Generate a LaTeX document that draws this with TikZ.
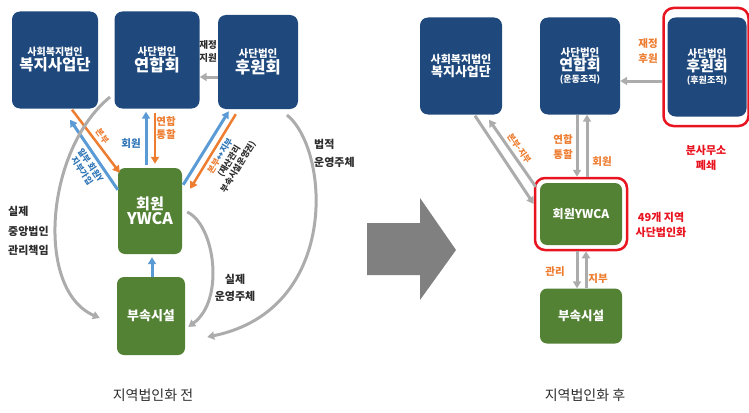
\documentclass[tikz,border=0pt]{standalone}
\usepackage{fontspec}
\setmainfont{Noto Sans CJK KR}
\usetikzlibrary{arrows.meta,calc}
\tikzstyle{canvas} = [x = 1pt, y = -1pt]
\definecolor{navyColor}{RGB}{31,73,125}
\definecolor{greenColor}{RGB}{84,130,53}
\definecolor{orangeColor}{RGB}{237,125,49}
\definecolor{blueColor}{RGB}{91,155,213}
\definecolor{blueText}{RGB}{46,117,182}
\definecolor{redColor}{RGB}{232,20,32}
\definecolor{lineGray}{RGB}{172,172,172}
\definecolor{arrowGray}{RGB}{128,128,128}
\definecolor{labelColor}{RGB}{45,45,45}
\newcommand{\txtSize}[2]{\fontsize{#1}{#2}\selectfont}
\tikzstyle{orgBox} = [fill=navyColor, rounded corners = 8pt, text=white, align=center, font=\bfseries, inner sep=0pt]
\tikzstyle{unitBox} = [fill=greenColor, rounded corners = 7pt, text=white, align=center, font=\bfseries, inner sep=0pt]
\tikzstyle{redFrame} = [draw=redColor, line width=2.5pt, rounded corners = 10pt, inner sep=0pt]
\tikzstyle{tipStyle} = [-{Triangle[length=7pt, width=8pt]}]
\tikzstyle{blueArrow} = [tipStyle, draw=blueColor, line width=3pt]
\tikzstyle{orangeArrow} = [tipStyle, draw=orangeColor, line width=2.5pt]
\tikzstyle{grayArrow} = [tipStyle, draw=lineGray, line width=3pt]
\tikzstyle{labelText} = [text=labelColor, align=center, font=\bfseries\txtSize{10.5}{14.5}, inner sep=1pt]
\tikzstyle{orangeLabel} = [labelText, text=orangeColor]
\tikzstyle{blueLabel} = [labelText, text=blueText]
\tikzstyle{redLabel} = [labelText, text=redColor, font=\bfseries\txtSize{11}{14.5}]
\tikzstyle{slopedLabel} = [labelText, sloped, inner sep=3pt, font=\bfseries\txtSize{8.5}{10.5}]
\tikzstyle{captionText} = [text=labelColor, font=\txtSize{14}{16}]

\begin{document}
\begin{tikzpicture}[canvas]
  \useasboundingbox (0,0) rectangle (749,412);

  \node[orgBox, minimum width=86pt, minimum height=97pt] (bwL) at (55,60) {{\txtSize{10}{14}사회복지법인}\\{\txtSize{15.5}{20}복지사업단}};
  \node[orgBox, minimum width=85pt, minimum height=97pt] (yhL) at (157,60) {{\txtSize{10.5}{14}사단법인}\\{\txtSize{16.5}{20}연합회}};
  \node[orgBox, minimum width=80pt, minimum height=94pt] (hwL) at (258,62) {{\txtSize{10.5}{14}사단법인}\\{\txtSize{16.5}{20}후원회}};
  \node[unitBox, minimum width=64pt, minimum height=86pt] (ywL) at (150,211) {{\txtSize{15}{20}회원}\\{\txtSize{16}{20}YWCA}};
  \node[unitBox, minimum width=68pt, minimum height=78pt] (bsL) at (151,316) {\txtSize{13}{15}부속시설};

  \draw[grayArrow] (hwL.west |- 0,77) -- (yhL.east |- 0,77);
  \node[labelText, font=\bfseries\txtSize{9.5}{13}] (fundL) at (208,51) {재정\\지원};
  \draw[blueArrow] ($(146,0 |- ywL.north)+(0,-3)$) -- ($(146,0 |- yhL.south)+(0,3)$);
  \draw[orangeArrow] ($(155,0 |- yhL.south)+(0,4)$) -- ($(155,0 |- ywL.north)+(0,-4)$);
  \node[blueLabel] (memL) at (131,144) {회원};
  \node[orangeLabel, font=\bfseries\txtSize{10.5}{13.5}] (unionL) at (166,128) {연합\\통할};
  \draw[blueArrow] ($(bsL.north)+(1,0)$) -- ($(ywL.south)+(2,3)$);

  \draw[orangeArrow] ($(bwL.south)+(17,1)$) -- node[slopedLabel, above, text=orangeColor] {본부} ($(ywL.north west)+(2,5)$);
  \draw[blueArrow] ($(ywL.north west)+(0,22)$) -- node[slopedLabel, below, text=blueText, pos=0.42] {일부 회원Y\\지부가입} ($(bwL.south)+(15,11)$);
  \draw[blueArrow] ($(ywL.north east)+(1,17)$) -- ($(hwL.south west)+(11,2)$);
  \draw[orangeArrow] ($(hwL.south west)+(18,5)$) -- node[slopedLabel, below] {{\color{orangeColor}본부}{\color{blueText}↔지부}\\(재산관리\\부속시설운영권)} ($(ywL.north east)+(8,21)$);

  \draw[grayArrow] (110,97) .. controls (45,150) and (35,290) .. ($(bsL.west)+(-17,2)$);
  \draw[grayArrow] (287,115) .. controls (330,150) and (340,310) .. ($(bsL.east)+(22,21)$);
  \draw[grayArrow] ($(ywL.east)+(5,1)$) .. controls (215,225) and (225,300) .. ($(bsL.east)+(3,11)$);
  \node[labelText, align=left, anchor=west, font=\bfseries\txtSize{11}{19.5}] (careL) at (7,231) {실제\\중앙법인\\관리책임};
  \node[labelText, align=left, anchor=west, font=\bfseries\txtSize{11}{18}] (legalL) at (313,153) {법적\\운영주체};
  \node[labelText, font=\bfseries\txtSize{11}{17}] (realL) at (235,288) {실제\\운영주체};
  \node[captionText] (capL) at (153,395) {지역법인화 전};

  \fill[arrowGray] (367,223) -- (420,223) -- (420,198) -- (456,250) -- (420,300) -- (420,275) -- (367,275) -- cycle;

  \node[orgBox, minimum width=82pt, minimum height=97pt] (bwR) at (461,66) {{\txtSize{11}{15}사회복지법인}\\{\txtSize{13}{16}복지사업단}};
  \node[orgBox, minimum width=80pt, minimum height=97pt] (yhR) at (580,66) {{\txtSize{10.5}{14}사단법인}\\{\txtSize{15}{18}연합회}\\{\txtSize{9}{13}(운동조직)}};
  \node[orgBox, minimum width=79pt, minimum height=99pt] (hwR) at (707,67) {{\txtSize{10.5}{14}사단법인}\\{\txtSize{15}{18}후원회}\\{\txtSize{9}{13}(후원조직)}};
  \node[redFrame, minimum width=85pt, minimum height=118pt] (hwRing) at (706,67) {};
  \node[unitBox, minimum width=82pt, minimum height=62pt] (ywR) at (581,214) {\txtSize{12}{14}회원YWCA};
  \node[redFrame, minimum width=92pt, minimum height=72pt] (ywRing) at (581,214) {};
  \node[unitBox, minimum width=82pt, minimum height=55pt] (bsR) at (581,316) {\txtSize{12.5}{15}부속시설};

  \draw[grayArrow] (hwRing.west |- 0,81) -- (yhR.east |- 0,81);
  \node[orangeLabel] (fundR) at (648,51) {재정\\후원};
  \node[redLabel] (closeR) at (706,158) {분사무소\\폐쇄};
  \node[redLabel] (regionR) at (661,225) {49개 지역\\사단법인화};

  \draw[grayArrow] (577,0 |- yhR.south) -- (577,0 |- ywRing.north);
  \draw[grayArrow] (587,0 |- ywRing.north) -- (587,0 |- yhR.south);
  \node[orangeLabel] (unionR) at (563,147) {연합\\통할};
  \node[orangeLabel] (memR) at (602,162) {회원};
  \draw[grayArrow] (577,0 |- ywRing.south) -- (577,0 |- bsR.north);
  \draw[grayArrow] (586,0 |- bsR.north) -- (586,0 |- ywRing.south);
  \node[orangeLabel] (manageR) at (555,272) {관리};
  \node[orangeLabel] (branchR) at (598,279) {지부};

  \draw[grayArrow] ($(bwR.south)+(14,1)$) -- ($(ywRing.west)+(0,-10)$);
  \draw[grayArrow] ($(ywRing.north west)+(2,10)$) -- node[slopedLabel, above, text=orangeColor] {본부-지부} ($(bwR.south)+(28,5)$);
  \node[captionText] (capR) at (585,395) {지역법인화 후};
\end{tikzpicture}
\end{document}
